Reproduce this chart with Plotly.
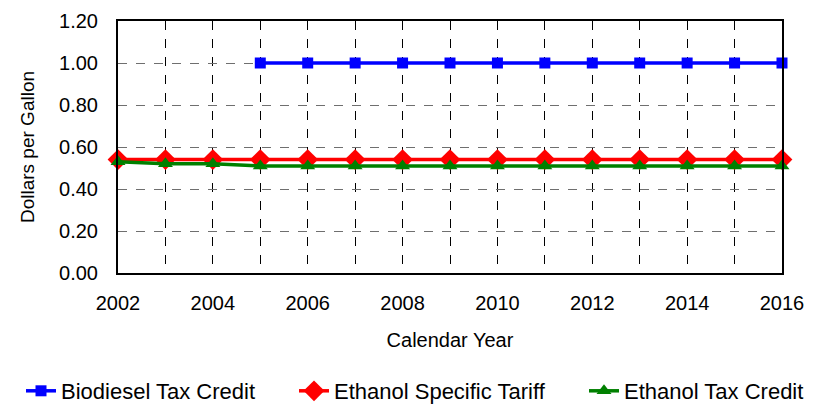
import plotly.graph_objects as go

years = list(range(2002, 2017))
biodiesel_years = list(range(2005, 2017))
biodiesel_credit = [1.00] * 12
ethanol_tariff = [0.54] * 15
ethanol_credit = [0.53, 0.52, 0.52] + [0.51] * 12

x_tick_vals = list(range(2002, 2017, 2))
y_tick_vals = [0.0, 0.2, 0.4, 0.6, 0.8, 1.0, 1.2]

font_family = "Liberation Sans, Arial, sans-serif"
W, H = 815, 404

fig = go.Figure()
fig.add_trace(go.Scatter(
    x=biodiesel_years, y=biodiesel_credit, name="Biodiesel Tax Credit",
    mode="lines+markers", line=dict(color="#0000ff", width=3.5),
    marker=dict(symbol="square", size=11, color="#0000ff"),
    legend="legend", cliponaxis=False,
))
fig.add_trace(go.Scatter(
    x=years, y=ethanol_tariff, name="Ethanol Specific Tariff",
    mode="lines+markers", line=dict(color="#ff0000", width=3.5),
    marker=dict(symbol="diamond", size=16, color="#ff0000"),
    legend="legend2", cliponaxis=False,
))
fig.add_trace(go.Scatter(
    x=years, y=ethanol_credit, name="Ethanol Tax Credit",
    mode="lines+markers", line=dict(color="#008000", width=3.5),
    marker=dict(symbol="triangle-up", size=13, color="#008000"),
    legend="legend3", cliponaxis=False,
))


def legend_box(x_px):
    return dict(
        x=x_px / W, xref="container", xanchor="left",
        y=1 - 391 / H, yref="container", yanchor="middle",
        orientation="h", font=dict(size=22, family=font_family, color="black"),
        bgcolor="rgba(0,0,0,0)", borderwidth=0, itemwidth=30,
    )


fig.update_layout(
    width=W, height=H,
    margin=dict(l=118, r=33, t=21, b=131, autoexpand=False),
    paper_bgcolor="white", plot_bgcolor="white",
    font=dict(family=font_family, size=19, color="black"),
    showlegend=True,
    legend=legend_box(21),
    legend2=legend_box(294),
    legend3=legend_box(584),
)
fig.update_xaxes(
    range=[2002, 2016], tickvals=x_tick_vals,
    ticktext=[str(v) for v in x_tick_vals],
    showgrid=True, gridcolor="black", griddash="dash", gridwidth=1,
    minor=dict(dtick=1, tick0=2002, showgrid=True, gridcolor="black",
               griddash="dash", gridwidth=1),
    showline=True, linecolor="black", linewidth=2, mirror=True,
    ticks="", zeroline=False, automargin=False,
    ticklabelstandoff=11,
    title=dict(text="Calendar Year", font=dict(size=20), standoff=20),
    tickfont=dict(size=20),
)
fig.update_yaxes(
    range=[0, 1.2], tickvals=y_tick_vals,
    ticktext=[f"{v:.2f}" for v in y_tick_vals],
    showgrid=True, gridcolor="#6f6f6f", griddash="dash", gridwidth=1,
    showline=True, linecolor="black", linewidth=2, mirror=True,
    ticks="", zeroline=False, automargin=False,
    ticklabelstandoff=14,
    title=dict(text="Dollars per Gallon", font=dict(size=19), standoff=19),
    tickfont=dict(size=20),
)

fig.write_html("out.html")
